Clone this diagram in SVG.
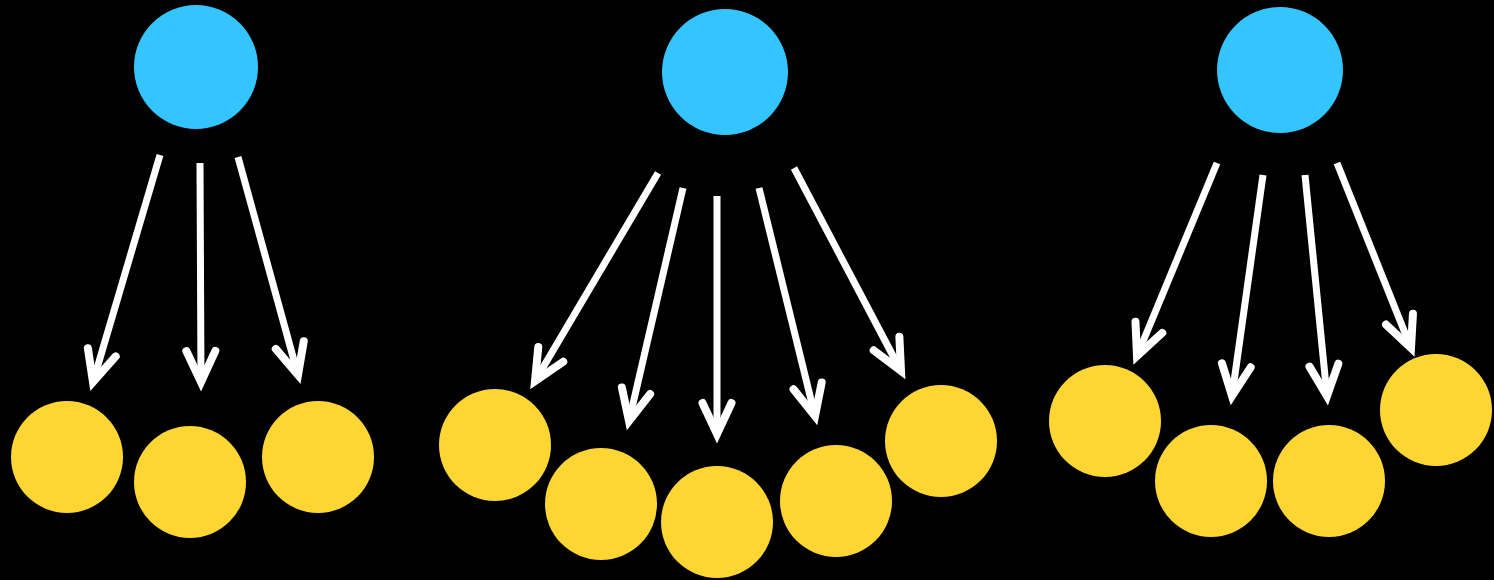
<svg xmlns="http://www.w3.org/2000/svg" width="1494" height="580" viewBox="0 0 1494 580">
<style>
.parent{fill:#35c5fe}
.child{fill:#fed633}
.edge{stroke:#fff;stroke-width:7;fill:none;stroke-linecap:butt}
</style>
<defs>
<marker id="head" markerUnits="userSpaceOnUse" viewBox="-40 -22 46 44" refX="0" refY="0" markerWidth="46" markerHeight="44" orient="auto" overflow="visible">
<path d="M-31,-14.5 L0,0 L-31,14.5" fill="none" stroke="#fff" stroke-width="8" stroke-linecap="round" stroke-linejoin="miter"/>
</marker>
</defs>
<rect width="1494" height="580" fill="#000"/>
<g id="connectors">
<line class="edge" marker-end="url(#head)" x1="160" y1="155" x2="93" y2="382"/>
<line class="edge" marker-end="url(#head)" x1="200" y1="163" x2="201" y2="382"/>
<line class="edge" marker-end="url(#head)" x1="238" y1="157" x2="298" y2="375"/>
<line class="edge" marker-end="url(#head)" x1="658" y1="173" x2="535" y2="381"/>
<line class="edge" marker-end="url(#head)" x1="683" y1="188" x2="629" y2="421"/>
<line class="edge" marker-end="url(#head)" x1="717" y1="196" x2="717" y2="434"/>
<line class="edge" marker-end="url(#head)" x1="759" y1="188" x2="815" y2="416"/>
<line class="edge" marker-end="url(#head)" x1="794" y1="168" x2="901" y2="371"/>
<line class="edge" marker-end="url(#head)" x1="1217" y1="163" x2="1137" y2="356"/>
<line class="edge" marker-end="url(#head)" x1="1263" y1="175" x2="1232" y2="396"/>
<line class="edge" marker-end="url(#head)" x1="1305" y1="175" x2="1327" y2="396"/>
<line class="edge" marker-end="url(#head)" x1="1337" y1="163" x2="1411" y2="348"/>
</g>
<g id="p1"><circle class="parent" cx="196" cy="67" r="62"/></g>
<g id="p2"><circle class="parent" cx="725" cy="72" r="63"/></g>
<g id="p3"><circle class="parent" cx="1280" cy="70" r="63"/></g>
<g id="c1a"><circle class="child" cx="67" cy="457" r="56"/></g>
<g id="c1b"><circle class="child" cx="190" cy="482" r="56"/></g>
<g id="c1c"><circle class="child" cx="318" cy="457" r="56"/></g>
<g id="c2a"><circle class="child" cx="495" cy="445" r="56"/></g>
<g id="c2b"><circle class="child" cx="601" cy="504" r="56"/></g>
<g id="c2c"><circle class="child" cx="717" cy="522" r="56"/></g>
<g id="c2d"><circle class="child" cx="836" cy="501" r="56"/></g>
<g id="c2e"><circle class="child" cx="941" cy="441" r="56"/></g>
<g id="c3a"><circle class="child" cx="1105" cy="421" r="56"/></g>
<g id="c3b"><circle class="child" cx="1211" cy="481" r="56"/></g>
<g id="c3c"><circle class="child" cx="1329" cy="481" r="56"/></g>
<g id="c3d"><circle class="child" cx="1436" cy="410" r="56"/></g>
</svg>
